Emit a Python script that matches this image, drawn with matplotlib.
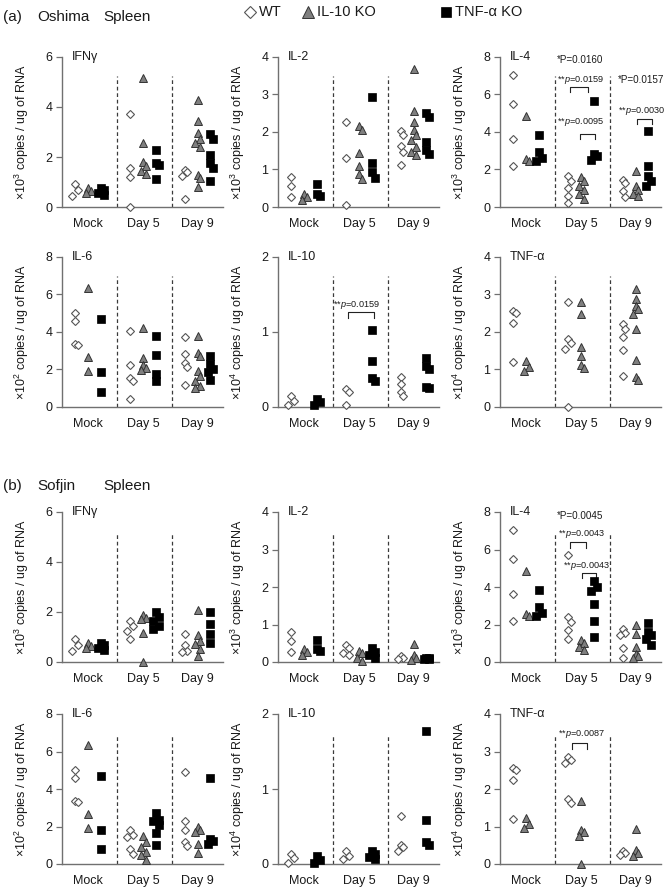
import matplotlib
matplotlib.use('Agg')
import matplotlib.pyplot as plt
import numpy as np

plt.rcParams['font.family'] = ['Liberation Sans', 'DejaVu Sans']
plt.rcParams['mathtext.fontset'] = 'custom'
plt.rcParams['mathtext.rm'] = 'Liberation Sans'
plt.rcParams['mathtext.it'] = 'Liberation Sans:italic'

DAYS = ['Mock', 'Day 5', 'Day 9']
GENOTYPES = ['WT', 'IL-10 KO', 'TNF-α KO']
CYTOKINES = ['IFNγ', 'IL-2', 'IL-4', 'IL-6', 'IL-10', 'TNF-α']
Y_MAX = [6, 4, 8, 8, 2, 4]
EXPONENT = [3, 3, 3, 2, 4, 4]

# each list: [WT, IL-10 KO, TNF-a KO]; mock animals are shared by (a) and (b)
MOCK_IFNG = [[0.93, 0.69, 0.45], [0.78, 0.65, 0.55], [0.75, 0.68, 0.55, 0.5]]
MOCK_IL2 = [[0.8, 0.55, 0.28], [0.35, 0.27, 0.2], [0.6, 0.36, 0.3]]
MOCK_IL4 = [[7.02, 5.49, 3.65, 2.19], [4.84, 2.54, 2.47], [3.86, 2.95, 2.6, 2.45]]
MOCK_IL6 = [[5.0, 4.6, 3.38, 3.3], [6.33, 2.66, 1.92], [4.69, 1.84, 0.79]]
MOCK_IL10 = [[0.14, 0.08, 0.02], [], [0.11, 0.06, 0.02]]
MOCK_TNF = [[2.55, 2.5, 2.23, 1.19], [1.22, 1.06, 0.97], []]

# (a) Oshima
OSH_IFNG_D5 = [[3.72, 1.54, 1.18, 0.0], [5.17, 2.55, 1.8, 1.62, 1.42, 1.31], [2.28, 1.75, 1.66, 1.13]]
OSH_IFNG_D9 = [[1.49, 1.38, 1.22, 0.33], [4.28, 3.45, 2.97, 2.71, 2.55, 2.4, 1.26, 1.15, 0.81],
               [2.91, 2.71, 2.06, 1.75, 1.55, 1.05]]
OSH_IL2_D5 = [[2.26, 1.3, 0.05], [2.15, 2.05, 1.43, 1.1, 0.88, 0.75], [2.94, 1.17, 0.92, 0.78]]
OSH_IL2_D9 = [[2.03, 1.92, 1.62, 1.46, 1.11], [3.67, 2.55, 2.27, 2.04, 1.91, 1.78, 1.6, 1.47, 1.39],
              [2.5, 2.4, 1.72, 1.52, 1.42]]
OSH_IL4_D5 = [[1.63, 1.4, 1.02, 0.61, 0.23], [1.6, 1.37, 1.12, 0.93, 0.67, 0.42], [5.63, 2.85, 2.7, 2.52]]
OSH_IL4_D9 = [[1.46, 1.28, 0.84, 0.54], [1.93, 1.14, 0.9, 0.67, 0.6], [4.05, 2.21, 1.63, 1.37, 1.1]]
OSH_IL6_D5 = [[4.07, 2.22, 1.57, 1.36, 0.44], [4.2, 2.59, 2.22, 2.1, 1.98], [3.81, 2.76, 1.78, 1.4]]
OSH_IL6_D9 = [[3.72, 2.85, 2.36, 2.15, 1.17], [3.79, 2.88, 2.7, 1.92, 1.66, 1.4, 1.14, 1.0],
              [2.71, 2.3, 2.05, 1.85, 1.45]]
OSH_IL10_D5 = [[0.24, 0.2, 0.02], [], [1.03, 0.61, 0.38, 0.34]]
OSH_IL10_D9 = [[0.4, 0.31, 0.2, 0.15], [], [0.65, 0.55, 0.5, 0.27, 0.25]]
OSH_TNF_D5 = [[2.8, 1.81, 1.7, 1.55, 0.0], [2.8, 2.48, 1.61, 1.37, 1.12, 1.04], []]
OSH_TNF_D9 = [[2.21, 2.08, 1.86, 1.52, 0.82], [3.14, 2.89, 2.7, 2.61, 2.48, 2.08, 1.24, 0.8, 0.73], []]

# (b) Sofjin
SOF_IFNG_D5 = [[1.66, 1.46, 1.24, 0.91], [1.88, 1.78, 1.72, 1.16, 0.0], [2.0, 1.81, 1.66, 1.46, 1.33]]
SOF_IFNG_D9 = [[1.13, 0.68, 0.45, 0.4], [2.07, 1.1, 0.85, 0.74, 0.52, 0.25], [2.0, 1.53, 1.13, 0.78]]
SOF_IL2_D5 = [[0.45, 0.37, 0.25, 0.2], [0.3, 0.25, 0.12, 0.02], [0.37, 0.28, 0.2, 0.12]]
SOF_IL2_D9 = [[0.15, 0.12, 0.08], [0.47, 0.19, 0.12, 0.06], [0.12, 0.1, 0.08, 0.07]]
SOF_IL4_D5 = [[5.72, 2.38, 2.15, 1.69, 1.22], [1.15, 0.99, 0.8, 0.65], [4.3, 4.0, 3.77, 3.11, 2.17, 1.34]]
SOF_IL4_D9 = [[1.77, 1.55, 1.45, 0.77, 0.24], [1.98, 1.48, 0.82, 0.45, 0.3, 0.2], [2.09, 1.6, 1.45, 1.25, 0.9]]
SOF_IL6_D5 = [[1.83, 1.57, 1.43, 0.79, 0.52], [1.48, 1.19, 0.93, 0.66, 0.47, 0.23],
              [2.71, 2.36, 2.28, 2.06, 1.66, 1.01]]
SOF_IL6_D9 = [[4.89, 2.3, 1.83, 1.19, 0.96], [1.97, 1.8, 1.71, 1.05, 0.58], [4.59, 1.36, 1.22, 1.05]]
SOF_IL10_D5 = [[0.18, 0.11, 0.07], [], [0.17, 0.13, 0.09, 0.07]]
SOF_IL10_D9 = [[0.64, 0.26, 0.23, 0.18], [], [1.77, 0.59, 0.3, 0.25]]
SOF_TNF_D5 = [[2.85, 2.78, 2.7, 1.74, 1.63], [1.68, 0.91, 0.85, 0.76, 0.0], []]
SOF_TNF_D9 = [[0.35, 0.3, 0.25], [0.94, 0.37, 0.3, 0.22], []]

MOCK = [MOCK_IFNG, MOCK_IL2, MOCK_IL4, MOCK_IL6, MOCK_IL10, MOCK_TNF]
OSHIMA = [(OSH_IFNG_D5, OSH_IFNG_D9), (OSH_IL2_D5, OSH_IL2_D9), (OSH_IL4_D5, OSH_IL4_D9),
          (OSH_IL6_D5, OSH_IL6_D9), (OSH_IL10_D5, OSH_IL10_D9), (OSH_TNF_D5, OSH_TNF_D9)]
SOFJIN = [(SOF_IFNG_D5, SOF_IFNG_D9), (SOF_IL2_D5, SOF_IL2_D9), (SOF_IL4_D5, SOF_IL4_D9),
          (SOF_IL6_D5, SOF_IL6_D9), (SOF_IL10_D5, SOF_IL10_D9), (SOF_TNF_D5, SOF_TNF_D9)]

# significance labels: (strain, cytokine) -> list of (kind, ...)
# 'txt': x, y, label    'br': x0, x1, y, label x, label y, label
PVALUES = {
    (0, 2): [('txt', 1.46, 7.86, '*P=0.0160'),
             ('br', 1.27, 1.61, 6.42, 1.46, 6.78, '**$p$=0.0159'),
             ('br', 1.46, 1.72, 3.88, 1.46, 4.53, '**$p$=0.0095'),
             ('txt', 2.57, 6.75, '*P=0.0157'),
             ('br', 2.50, 2.76, 4.70, 2.57, 5.10, '**$p$=0.0030')],
    (0, 4): [('br', 1.27, 1.74, 1.26, 1.43, 1.36, '**$p$=0.0159')],
    (1, 2): [('txt', 1.46, 7.77, '*P=0.0045'),
             ('br', 1.28, 1.57, 6.38, 1.48, 6.84, '**$p$=0.0043'),
             ('br', 1.49, 1.75, 4.77, 1.57, 5.13, '**$p$=0.0043')],
    (1, 5): [('br', 1.31, 1.58, 3.22, 1.48, 3.46, '**$p$=0.0087')],
}

W, H = 670, 892
COL_X = [62, 278, 500]
ROW_TOP = [57, 257, 512, 714]
AX_W, AX_H = 161, 150
CENTERS = [0.48, 1.48, 2.47]
OFFSETS = [-0.24, 0.0, 0.23]
TEXT = '#1a1a1a'
AXIS = '#707070'

STYLES = [dict(marker='D', ms=3.9, mfc='white', mec='#555555', mew=0.8),
          dict(marker='^', ms=6.2, mfc='#7f7f7f', mec='#333333', mew=0.7),
          dict(marker='s', ms=5.4, mfc='black', mec='black', mew=0.5)]


def spread(vals, ymax):
    # nudge overlapping points left/right like the hand-placed originals
    vals = np.asarray(vals, dtype=float)
    dx = np.zeros(len(vals))
    prev = None
    for i in np.argsort(-vals):
        if prev is not None and abs(vals[prev] - vals[i]) < 0.045 * ymax:
            dx[i] = 0.05 if dx[prev] <= 0 else -0.05
        prev = i
    return dx


def draw_panel(ax, k, groups, pvals):
    ymax = Y_MAX[k]
    for d, day_groups in enumerate(groups):
        for g, vals in enumerate(day_groups):
            if not vals:
                continue
            x = CENTERS[d] + OFFSETS[g] + spread(vals, ymax)
            ax.plot(x, vals, ls='none', clip_on=False, zorder=3, **STYLES[g])

    for xd in (1.0, 2.0):
        ax.plot([xd, xd], [0, 0.87 * ymax], color='#3a3a3a', lw=0.9,
                ls=(0, (3, 2.2)), zorder=1)

    ax.set_xlim(0, 2.93)
    ax.set_ylim(0, ymax)
    step = 2 if ymax >= 6 else 1
    ax.set_yticks(np.arange(0, ymax + 1, step))
    ax.set_xticks(CENTERS)
    ax.set_xticklabels(DAYS)
    ax.tick_params(axis='x', length=0, pad=8, labelsize=9, labelcolor=TEXT)
    ax.tick_params(axis='y', length=4, width=0.9, color=AXIS, direction='out',
                   pad=3, labelsize=9, labelcolor=TEXT)
    for s in ('top', 'right'):
        ax.spines[s].set_visible(False)
    for s in ('left', 'bottom'):
        ax.spines[s].set_color(AXIS)
        ax.spines[s].set_linewidth(1.0)

    ax.set_ylabel('×10$^{%d}$ copies / ug of RNA' % EXPONENT[k], fontsize=9, color=TEXT)
    ax.yaxis.set_label_coords(-0.19, 0.5)
    ax.text(0.06, 1.0, CYTOKINES[k], transform=ax.transAxes, ha='left', va='center',
            fontsize=9, color=TEXT)

    for item in pvals:
        if item[0] == 'txt':
            _, tx, ty, label = item
            ax.text(tx, ty, label, ha='center', va='center', fontsize=7.1, color=TEXT)
        else:
            _, x0, x1, y, tx, ty, label = item
            drop = 0.035 * ymax
            ax.plot([x0, x0, x1, x1], [y - drop, y, y, y - drop], color='#222222',
                    lw=0.8, clip_on=False)
            ax.text(tx, ty, label, ha='center', va='center', fontsize=6.6, color=TEXT)


fig = plt.figure(figsize=(W / 100, H / 100), dpi=100)

for strain, data in enumerate([OSHIMA, SOFJIN]):
    for k in range(6):
        col = k % 3
        row = strain * 2 + k // 3
        ax = fig.add_axes([COL_X[col] / W, 1 - (ROW_TOP[row] + AX_H) / H, AX_W / W, AX_H / H])
        groups = [MOCK[k], data[k][0], data[k][1]]
        draw_panel(ax, k, groups, PVALUES.get((strain, k), []))

# headers and legend drawn in pixel space
over = fig.add_axes([0, 0, 1, 1], facecolor='none')
over.set_xlim(0, W)
over.set_ylim(H, 0)
over.axis('off')

for y, words in ((17, ['(a)', 'Oshima', 'Spleen']), (486, ['(b)', 'Sofjin', 'Spleen'])):
    for x, w in zip([3, 37, 103], words):
        over.text(x, y, w, ha='left', va='center', fontsize=11, color=TEXT)

legend_x = [250, 308, 446]
legend_ms = [6.4, 8.6, 7.6]
for g, name in enumerate(GENOTYPES):
    st = dict(STYLES[g])
    st['ms'] = legend_ms[g]
    over.plot([legend_x[g]], [12], ls='none', clip_on=False, **st)
    over.text(legend_x[g] + 9, 12, name, ha='left', va='center', fontsize=10.5, color=TEXT)

fig.savefig('out.png', dpi=100)
